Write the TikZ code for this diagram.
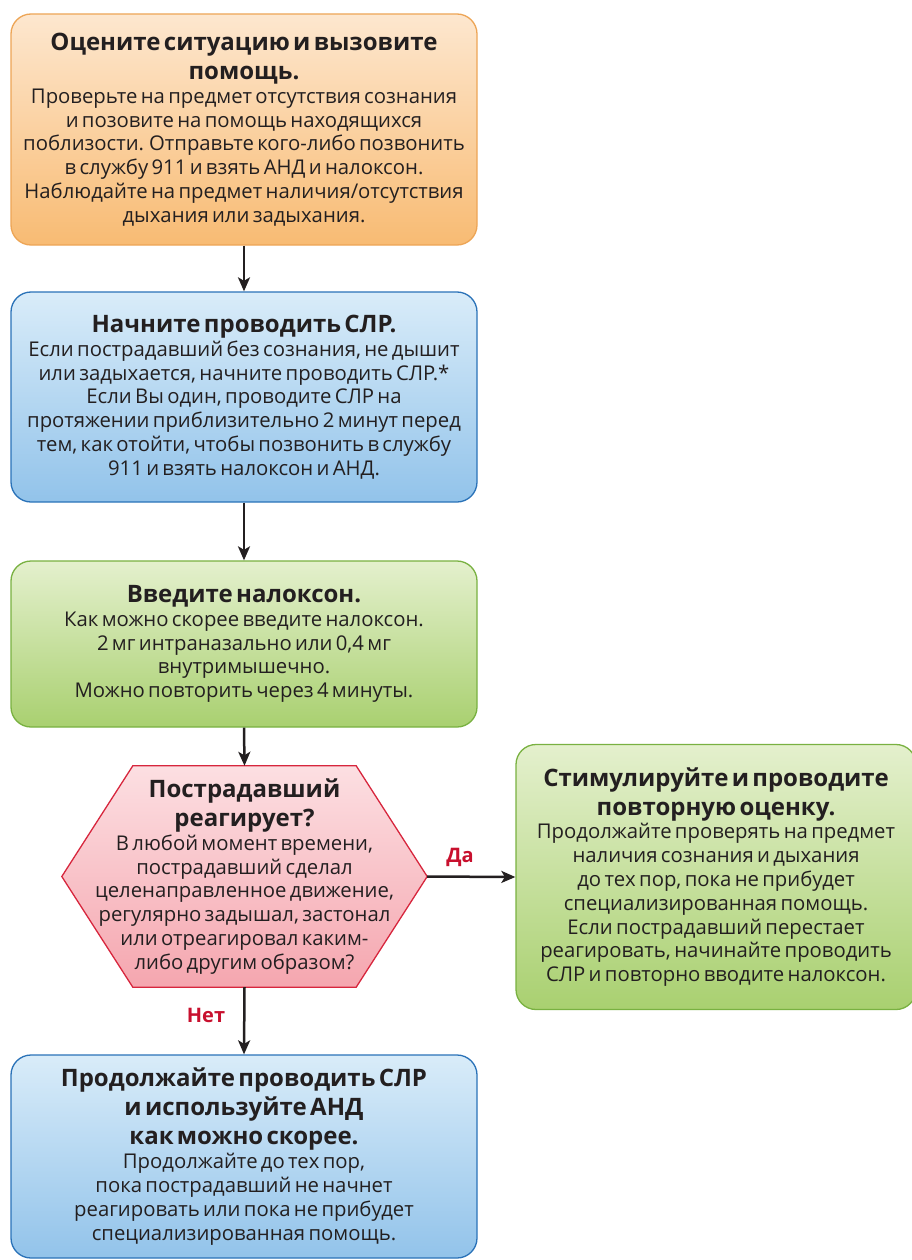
\documentclass[tikz,border=0pt]{standalone}
\usepackage{fontspec}
\setmainfont{Open Sans}
\usetikzlibrary{arrows.meta,calc}

\definecolor{ink}{HTML}{231F20}
\definecolor{labred}{HTML}{C8102E}
\definecolor{orangeline}{HTML}{EDA556}
\definecolor{orangetop}{HTML}{FDE7CF}
\definecolor{orangebot}{HTML}{F8BB73}
\definecolor{blueline}{HTML}{2A72B8}
\definecolor{bluetop}{HTML}{D9ECF9}
\definecolor{bluebot}{HTML}{92C3EA}
\definecolor{greenline}{HTML}{79B141}
\definecolor{greentop}{HTML}{E4F0CD}
\definecolor{greenbot}{HTML}{A9D070}
\definecolor{pinkline}{HTML}{D7263D}
\definecolor{pinktop}{HTML}{FCDFE2}
\definecolor{pinkbot}{HTML}{F5A6AF}

\newcommand\headfont{\fontsize{24}{29}\selectfont\bfseries}
\newcommand\bodyfont{\fontsize{20.3}{23.8}\selectfont\mdseries}

\tikzset{
  box/.style={rounded corners=20pt, line width=1.3pt, align=center,
    inner sep=0pt, text=ink},
  orangebox/.style={box, draw=orangeline, top color=orangetop, bottom color=orangebot},
  bluebox/.style={box, draw=blueline, top color=bluetop, bottom color=bluebot},
  greenbox/.style={box, draw=greenline, top color=greentop, bottom color=greenbot},
  hexshape/.style={draw=pinkline, line width=1.3pt, top color=pinktop, bottom color=pinkbot},
  flow/.style={draw=ink, line width=2.5pt, -{Stealth[length=14pt,width=12pt,inset=3.5pt]}},
  answer/.style={text=labred, font=\fontsize{20}{22}\selectfont\bfseries, inner sep=0pt}
}

\begin{document}
\begin{tikzpicture}[x=1pt,y=1pt]
\useasboundingbox (0,0) rectangle (912,-1260);

% step 1: assess and call for help
\node[orangebox, minimum width=466pt, minimum height=231pt, text width=460pt]
  (assess) at (244,-129.5)
  {{\headfont Оцените ситуацию и вызовите\\ помощь.\par}
   {\bodyfont Проверьте на предмет отсутствия сознания\\
   и позовите на помощь находящихся\\
   поблизости. Отправьте кого-либо позвонить\\
   в службу 911 и взять АНД и налоксон.\\
   Наблюдайте на предмет наличия/отсутствия\\
   дыхания или задыхания.\par}};

% step 2: start CPR
\node[bluebox, minimum width=466pt, minimum height=210pt, text width=460pt]
  (cpr) at (244,-397)
  {{\headfont Начните проводить СЛР.\par}
   {\bodyfont Если пострадавший без сознания, не дышит\\
   или задыхается, начните проводить СЛР.*\\
   Если Вы один, проводите СЛР на\\
   протяжении приблизительно 2 минут перед\\
   тем, как отойти, чтобы позвонить в службу\\
   911 и взять налоксон и АНД.\par}};

% step 3: give naloxone
\node[greenbox, minimum width=466pt, minimum height=166pt, text width=460pt]
  (nalox) at (244,-644)
  {{\headfont Введите налоксон.\par}
   {\bodyfont Как можно скорее введите налоксон.\\
   2 мг интраназально или 0,4 мг\\
   внутримышечно.\\
   Можно повторить через 4 минуты.\par}};

% decision: does the person respond?
\node[minimum width=365pt, minimum height=221pt, inner sep=0pt] (q) at (244.5,-876.5) {};
\path[hexshape] (q.west) -- ($(q.north west)+(71,0)$) -- ($(q.north east)+(-71,0)$)
  -- (q.east) -- ($(q.south east)+(-71,0)$) -- ($(q.south west)+(71,0)$) -- cycle;
\node[align=center, text=ink, text width=340pt, inner sep=0pt] (qtext) at (q.center)
  {{\headfont Пострадавший\\ реагирует?\par}
   {\bodyfont В любой момент времени,\\
   пострадавший сделал\\
   целенаправленное движение,\\
   регулярно задышал, застонал\\
   или отреагировал каким-\\
   либо другим образом?\par}};

% yes branch: stimulate and reassess
\node[greenbox, minimum width=400pt, minimum height=265pt, text width=390pt]
  (reassess) at (716,-877)
  {{\headfont Стимулируйте и проводите\\ повторную оценку.\par}
   {\bodyfont Продолжайте проверять на предмет\\
   наличия сознания и дыхания\\
   до тех пор, пока не прибудет\\
   специализированная помощь.\\
   Если пострадавший перестает\\
   реагировать, начинайте проводить\\
   СЛР и повторно вводите налоксон.\par}};

% no branch: continue CPR and use AED
\node[bluebox, minimum width=466pt, minimum height=203pt, text width=460pt]
  (continue) at (244,-1156.5)
  {{\headfont Продолжайте проводить СЛР\\ и используйте АНД\\ как можно скорее.\par}
   {\bodyfont Продолжайте до тех пор,\\
   пока пострадавший не начнет\\
   реагировать или пока не прибудет\\
   специализированная помощь.\par}};

% connectors
\draw[flow] (assess.south) -- (cpr.north);
\draw[flow] (cpr.south) -- (nalox.north);
\draw[flow] (nalox.south) -- (q.north);
\draw[flow] (q.east) -- (reassess.west);
\draw[flow] (q.south) -- (continue.north);

\node[answer] (yes) at (460,-857) {Да};
\node[answer] (no) at (206,-1015) {Нет};
\end{tikzpicture}
\end{document}
